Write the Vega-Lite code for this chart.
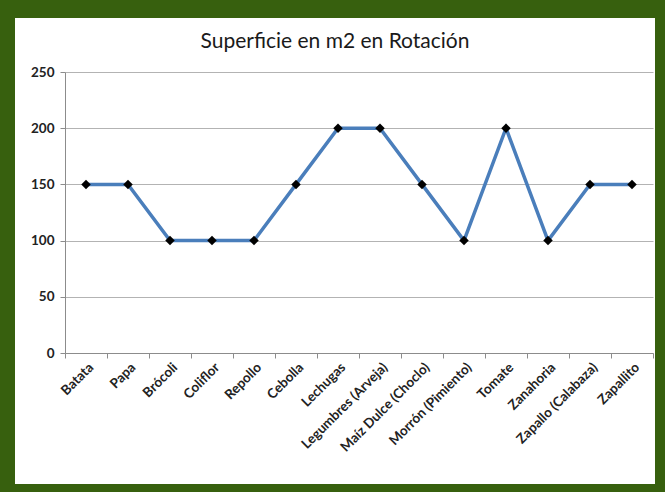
{
  "$schema": "https://vega.github.io/schema/vega-lite/v6.json",
  "width": 640,
  "height": 466,
  "autosize": "none",
  "padding": {"left": 15, "top": 18, "right": 10, "bottom": 8},
  "background": "#37600e",
  "title": {
    "text": "Superficie en m2 en Rotación",
    "fontSize": 21,
    "font": "Lato",
    "fontWeight": "normal",
    "color": "#1a1a1a",
    "offset": -45,
    "anchor": "middle",
    "baseline": "middle"
  },
  "config": {"view": {"fill": "white", "stroke": null}},
  "data": {
    "values": [
      {"cultivo": "Batata", "m2": 150},
      {"cultivo": "Papa", "m2": 150},
      {"cultivo": "Brócoli", "m2": 100},
      {"cultivo": "Coliflor", "m2": 100},
      {"cultivo": "Repollo", "m2": 100},
      {"cultivo": "Cebolla", "m2": 150},
      {"cultivo": "Lechugas", "m2": 200},
      {"cultivo": "Legumbres (Arveja)", "m2": 200},
      {"cultivo": "Maíz Dulce (Choclo)", "m2": 150},
      {"cultivo": "Morrón (Pimiento)", "m2": 100},
      {"cultivo": "Tomate", "m2": 200},
      {"cultivo": "Zanahoria", "m2": 100},
      {"cultivo": "Zapallo (Calabaza)", "m2": 150},
      {"cultivo": "Zapallito", "m2": 150}
    ]
  },
  "encoding": {
    "x": {
      "field": "cultivo",
      "type": "nominal",
      "sort": null,
      "scale": {"type": "band", "range": [50, 638], "paddingInner": 0, "paddingOuter": 0},
      "axis": {
        "title": null,
        "offset": -131,
        "labelAngle": -45,
        "labelAlign": "right",
        "labelBaseline": "top",
        "tickBand": "extent",
        "grid": false,
        "domainColor": "#8c8c8c",
        "tickColor": "#8c8c8c",
        "tickSize": 5,
        "labelPadding": 2,
        "labelFont": "Lato",
        "labelFontWeight": "bold",
        "labelFontSize": 13.5,
        "labelColor": "#222222"
      }
    },
    "y": {
      "field": "m2",
      "type": "quantitative",
      "scale": {"domain": [0, 250], "range": [335, 54], "nice": false},
      "axis": {
        "title": null,
        "offset": -50,
        "values": [0, 50, 100, 150, 200, 250],
        "grid": true,
        "gridColor": "#b3b3b3",
        "domainColor": "#8c8c8c",
        "tickColor": "#8c8c8c",
        "tickSize": 5,
        "labelPadding": 6,
        "labelFont": "Lato",
        "labelFontWeight": "bold",
        "labelFontSize": 13.5,
        "labelColor": "#222222"
      }
    }
  },
  "layer": [
    {"mark": {"type": "line", "color": "#4a7ebb", "strokeWidth": 3.5}},
    {"mark": {"type": "point", "shape": "diamond", "filled": true, "color": "black", "size": 90, "opacity": 1}}
  ]
}
